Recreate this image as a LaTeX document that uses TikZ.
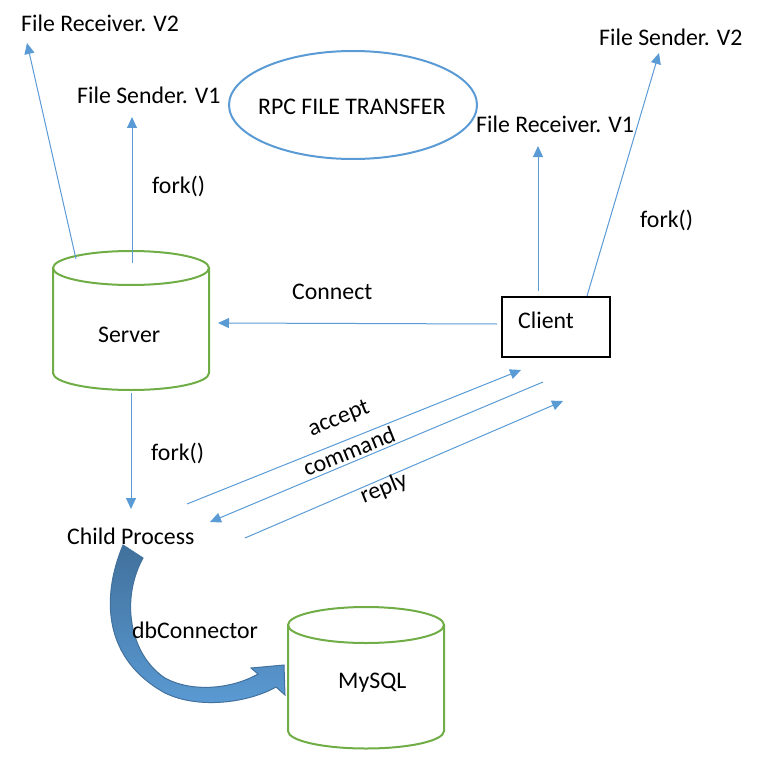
\documentclass[tikz,border=0pt]{standalone}
\usepackage{fontspec}
\setmainfont{Carlito}
\usepackage{tikz}
\usetikzlibrary{arrows.meta}
\definecolor{linkblue}{RGB}{91,155,213}
\definecolor{dbgreen}{RGB}{112,173,71}
\definecolor{darkblue}{RGB}{65,113,156}
\tikzset{
    txt/.style={font=\fontsize{23.8}{28}\selectfont, inner sep=0pt, anchor=base west},
    link/.style={linkblue, line width=1pt, -{Triangle[length=11pt,width=10pt]}},
    db/.style={dbgreen, line width=2pt}
}

\begin{document}
\begin{tikzpicture}[x=1pt,y=-1pt]
    \useasboundingbox (0,0) rectangle (762,765);
    % server cylinder
    \draw [db] (53,268) -- (53,373) arc [start angle=180, end angle=360, x radius=78pt, y radius=17pt] -- (209,268);
    \draw [db] (131,268) ellipse [x radius=78pt, y radius=17pt];
    \node [txt] (server) at (98,342) {Server};
    % mysql cylinder
    \draw [db] (288,625) -- (288,731) arc [start angle=180, end angle=360, x radius=78pt, y radius=17.5pt] -- (444,625);
    \draw [db] (366,625) ellipse [x radius=78pt, y radius=18pt];
    \node [txt] (mysql) at (338,688) {MySQL};
    % title
    \draw [linkblue, line width=2pt] (353,105) ellipse [x radius=124pt, y radius=54pt];
    \node [txt] (title) at (258,114) {RPC FILE TRANSFER};
    % client
    \node [draw, line width=1.5pt, minimum width=108pt, minimum height=60pt] (clientbox) at (556,327) {};
    \node [txt] (client) at (518,328) {Client};
    % process names
    \node [txt] (recvtwo) at (21,32) {File Receiver. V2};
    \node [txt] (sendone) at (77,103) {File Sender. V1};
    \node [txt] (sendtwo) at (599,46) {File Sender. V2};
    \node [txt] (recvone) at (476,132) {File Receiver. V1};
    \node [txt] (child) at (67,544) {Child Process};
    \node [txt] (forkA) at (152,193) {fork()};
    \node [txt] (forkB) at (640,227) {fork()};
    \node [txt] (forkC) at (151,460) {fork()};
    \node [txt] (connect) at (292,299) {Connect};
    % arrow ends
    \coordinate (srvL) at (76,259);   \coordinate (recvtwoT) at (27,43);
    \coordinate (srvM) at (132,263);  \coordinate (sendoneT) at (132,117);
    \coordinate (cliL) at (538,291);  \coordinate (recvoneT) at (538,146);
    \coordinate (cliR) at (587,296);  \coordinate (sendtwoT) at (659,53);
    \coordinate (cliW) at (497,324);  \coordinate (srvE) at (218,323);
    \coordinate (srvS) at (131,393);  \coordinate (childN) at (131,509);
    \coordinate (accA) at (187,504);  \coordinate (accB) at (521,370);
    \coordinate (cmdA) at (543,382);  \coordinate (cmdB) at (210,522);
    \coordinate (repA) at (245,538);  \coordinate (repB) at (563,401);
    \draw [link] (srvL) -- (recvtwoT);
    \draw [link] (srvM) -- (sendoneT);
    \draw [link] (cliL) -- (recvoneT);
    \draw [link] (cliR) -- (sendtwoT);
    \draw [link] (cliW) -- (srvE);
    \draw [link] (srvS) -- (childN);
    \draw [link] (accA) -- (accB);
    \draw [link] (cmdA) -- (cmdB);
    \draw [link] (repA) -- (repB);
    \node [txt, anchor=center, rotate=22] (accept) at (339,419) {accept};
    \node [txt, anchor=center, rotate=22] (command) at (349,451) {command};
    \node [txt, anchor=center, rotate=22] (reply) at (384,489) {reply};
    % curved block arrow
    \draw [darkblue, line width=1pt, top color=darkblue, bottom color=linkblue]
        (123,545) .. controls (100,600) and (105,660) .. (165,693)
        .. controls (200,710) and (250,702) .. (276,687) -- (285,695) -- (284,665)
        -- (251,668) -- (258,674) .. controls (230,690) and (190,692) .. (165,678)
        .. controls (130,655) and (120,600) .. (143,558) -- cycle;
    \node [txt] (dbconn) at (132,638) {dbConnector};
\end{tikzpicture}
\end{document}
